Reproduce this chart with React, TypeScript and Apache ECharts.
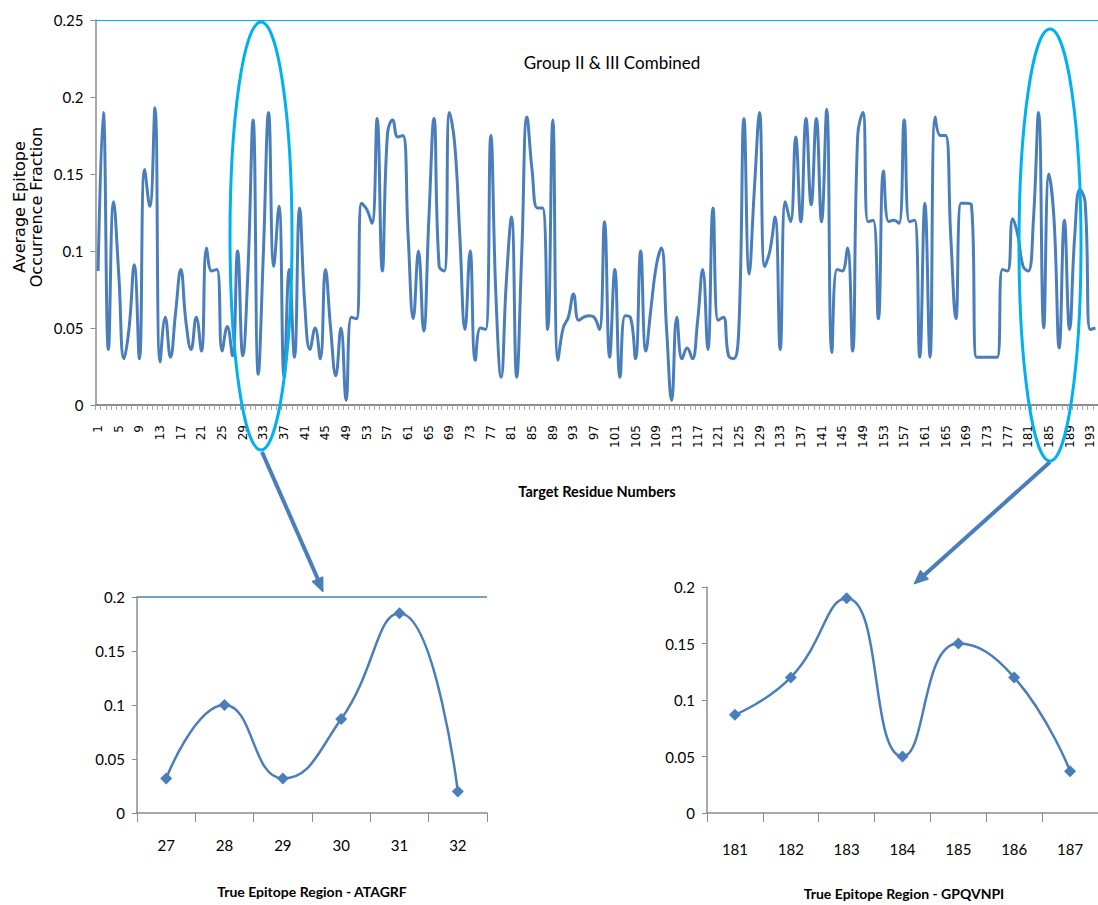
import React, { useEffect, useRef } from "react";
import * as echarts from "echarts";

const residueValues: number[] = [
  0.087, 0.19, 0.036, 0.132, 0.085, 0.03, 0.05, 0.091, 0.03, 0.153,
  0.129, 0.193, 0.028, 0.057, 0.031, 0.06, 0.088, 0.054, 0.036, 0.057,
  0.035, 0.102, 0.087, 0.088, 0.035, 0.051, 0.032, 0.1, 0.032, 0.087,
  0.185, 0.02, 0.1, 0.19, 0.09, 0.129, 0.018, 0.088, 0.031, 0.128,
  0.065, 0.036, 0.05, 0.03, 0.088, 0.05, 0.019, 0.05, 0.003, 0.057,
  0.056, 0.131, 0.127, 0.118, 0.186, 0.087, 0.176, 0.185, 0.174, 0.175,
  0.11, 0.056, 0.1, 0.048, 0.12, 0.186, 0.09, 0.087, 0.19, 0.17,
  0.11, 0.049, 0.1, 0.029, 0.05, 0.049, 0.175, 0.07, 0.018, 0.08,
  0.122, 0.018, 0.1, 0.187, 0.152, 0.128, 0.128, 0.049, 0.185, 0.029,
  0.05, 0.057, 0.072, 0.055, 0.057, 0.058, 0.057, 0.049, 0.119, 0.031,
  0.088, 0.018, 0.058, 0.057, 0.03, 0.1, 0.035, 0.063, 0.09, 0.102,
  0.05, 0.003, 0.057, 0.03, 0.037, 0.03, 0.054, 0.088, 0.036, 0.128,
  0.055, 0.057, 0.032, 0.03, 0.05, 0.186, 0.085, 0.14, 0.19, 0.09,
  0.1, 0.122, 0.036, 0.132, 0.119, 0.174, 0.119, 0.186, 0.13, 0.186,
  0.119, 0.192, 0.034, 0.088, 0.087, 0.102, 0.035, 0.175, 0.19, 0.119,
  0.12, 0.056, 0.152, 0.119, 0.12, 0.118, 0.185, 0.119, 0.12, 0.031,
  0.131, 0.031, 0.187, 0.175, 0.175, 0.11, 0.056, 0.131, 0.131, 0.13,
  0.031, 0.031, 0.031, 0.031, 0.031, 0.088, 0.087, 0.121, 0.11, 0.09,
  0.087, 0.12, 0.19, 0.05, 0.15, 0.12, 0.037, 0.12, 0.049, 0.11,
  0.14, 0.132, 0.049, 0.05,
];
const residueNumbers: string[] = residueValues.map((_, i) => String(i + 1));

const leftCategories: string[] = ["27", "28", "29", "30", "31", "32"];
const leftValues: number[] = [0.032, 0.1, 0.032, 0.087, 0.185, 0.02];

const rightCategories: string[] = ["181", "182", "183", "184", "185", "186", "187"];
const rightValues: number[] = [0.087, 0.12, 0.19, 0.05, 0.15, 0.12, 0.037];

const mainTitle = "Group II & III Combined";
const mainXName = "Target Residue Numbers";
const mainYName = "Average Epitope\nOccurrence Fraction";
const leftXName = "True Epitope Region - ATAGRF";
const rightXName = "True Epitope Region - GPQVNPI";

const LINE = "#4a7ebb";
const CYAN = "#00b0f0";
const AXIS = "#8c8c8c";
const NARROW = "Lato, 'Liberation Sans', sans-serif";
const WIDE = "'DejaVu Sans', Verdana, sans-serif";

function arrowHead(x1: number, y1: number, x2: number, y2: number, len: number, half: number) {
  const dx = x2 - x1;
  const dy = y2 - y1;
  const d = Math.sqrt(dx * dx + dy * dy);
  const ux = dx / d;
  const uy = dy / d;
  const bx = x2 - ux * len;
  const by = y2 - uy * len;
  const px = -uy;
  const py = ux;
  return [
    [x2, y2],
    [bx + px * half, by + py * half],
    [bx - px * half, by - py * half],
  ];
}

export default function App() {
  const ref = useRef<HTMLDivElement>(null);

  useEffect(() => {
    if (!ref.current) return;
    const chart = echarts.init(ref.current, undefined, { renderer: "svg" });

    const yAxisCommon = (gridIndex: number, max: number, labelSize: number) => ({
      type: "value" as const,
      gridIndex,
      min: 0,
      max,
      interval: 0.05,
      axisLine: { show: true, lineStyle: { color: AXIS, width: 1.5 } },
      axisTick: { show: true, length: 5, lineStyle: { color: AXIS } },
      splitLine: { show: false },
      axisLabel: { color: "#000", fontFamily: NARROW, fontSize: labelSize, margin: 12 },
    });

    const leftArrow = arrowHead(262, 452, 323, 592, 14, 6);
    const rightArrow = arrowHead(1050, 462, 914, 584, 14, 6);

    const centeredText = (text: string, x: number, y: number, size: number, bold: boolean) => ({
      type: "text",
      x,
      y,
      style: {
        text,
        fontFamily: NARROW,
        fontWeight: bold ? "bold" : "normal",
        fontSize: size,
        fill: "#000",
        align: "center",
        verticalAlign: "middle",
      },
    });

    chart.setOption({
      animation: false,
      backgroundColor: "#ffffff",
      grid: [
        { left: 95.5, top: 20, width: 1005, height: 385 },
        { left: 137, top: 597, width: 350, height: 216 },
        { left: 707, top: 587, width: 394, height: 226 },
      ],
      xAxis: [
        {
          type: "category",
          gridIndex: 0,
          data: residueNumbers,
          boundaryGap: true,
          axisLine: { lineStyle: { color: AXIS, width: 2 } },
          axisTick: { show: true, interval: 0, length: 5, lineStyle: { color: "#a6a6a6" } },
          axisLabel: {
            interval: 3,
            rotate: 90,
            margin: 20,
            color: "#000",
            fontFamily: WIDE,
            fontSize: 12,
          },
        },
        {
          type: "category",
          gridIndex: 1,
          data: leftCategories,
          boundaryGap: true,
          axisLine: { lineStyle: { color: AXIS, width: 1.5 } },
          axisTick: { show: true, interval: 0, length: 9, lineStyle: { color: AXIS } },
          axisLabel: { margin: 24, color: "#000", fontFamily: NARROW, fontSize: 15 },
        },
        {
          type: "category",
          gridIndex: 2,
          data: rightCategories,
          boundaryGap: true,
          axisLine: { lineStyle: { color: AXIS, width: 1.5 } },
          axisTick: { show: true, interval: 0, length: 9, lineStyle: { color: AXIS } },
          axisLabel: { margin: 28, color: "#000", fontFamily: NARROW, fontSize: 15 },
        },
      ],
      yAxis: [yAxisCommon(0, 0.25, 15), yAxisCommon(1, 0.2, 15), yAxisCommon(2, 0.2, 15)],
      series: [
        {
          type: "line",
          xAxisIndex: 0,
          yAxisIndex: 0,
          data: residueValues,
          smooth: 0.45,
          showSymbol: false,
          lineStyle: { color: LINE, width: 3 },
          markLine: {
            silent: true,
            symbol: "none",
            label: { show: false },
            lineStyle: { color: CYAN, width: 1, type: "solid" },
            data: [{ yAxis: 0.25 }],
          },
        },
        {
          type: "line",
          xAxisIndex: 1,
          yAxisIndex: 1,
          data: leftValues,
          smooth: 0.5,
          symbol: "diamond",
          symbolSize: 12,
          itemStyle: { color: LINE },
          lineStyle: { color: LINE, width: 2.5 },
          markLine: {
            silent: true,
            symbol: "none",
            label: { show: false },
            lineStyle: { color: LINE, width: 1.5, type: "solid" },
            data: [{ yAxis: 0.2 }],
          },
        },
        {
          type: "line",
          xAxisIndex: 2,
          yAxisIndex: 2,
          data: rightValues,
          smooth: 0.5,
          symbol: "diamond",
          symbolSize: 12,
          itemStyle: { color: LINE },
          lineStyle: { color: LINE, width: 2.5 },
        },
      ],
      graphic: [
        centeredText(mainTitle, 612, 62, 17, false),
        {
          type: "text",
          x: 28,
          y: 207,
          rotation: Math.PI / 2,
          style: {
            text: mainYName,
            fontFamily: WIDE,
            fontSize: 16,
            lineHeight: 17,
            fill: "#000",
            align: "center",
            verticalAlign: "middle",
          },
        },
        centeredText(mainXName, 597, 491, 14.5, true),
        centeredText(leftXName, 312, 891, 14, true),
        centeredText(rightXName, 904, 893, 14, true),
        {
          type: "ellipse",
          z: 100,
          shape: { cx: 261, cy: 236, rx: 31, ry: 214 },
          style: { fill: "none", stroke: CYAN, lineWidth: 3 },
        },
        {
          type: "ellipse",
          z: 100,
          shape: { cx: 1050, cy: 245, rx: 31, ry: 216 },
          style: { fill: "none", stroke: CYAN, lineWidth: 3 },
        },
        {
          type: "line",
          z: 101,
          shape: { x1: 262, y1: 452, x2: 320, y2: 584 },
          style: { stroke: LINE, lineWidth: 4 },
        },
        {
          type: "polygon",
          z: 101,
          shape: { points: leftArrow },
          style: { fill: LINE, stroke: LINE, lineWidth: 1 },
        },
        {
          type: "line",
          z: 101,
          shape: { x1: 1050, y1: 462, x2: 921, y2: 578 },
          style: { stroke: LINE, lineWidth: 4 },
        },
        {
          type: "polygon",
          z: 101,
          shape: { points: rightArrow },
          style: { fill: LINE, stroke: LINE, lineWidth: 1 },
        },
      ],
    });

    return () => {
      chart.dispose();
    };
  }, []);

  return (
    <div
      ref={ref}
      style={{ position: "fixed", left: 0, top: 0, width: 1098, height: 905, background: "#fff" }}
    />
  );
}
